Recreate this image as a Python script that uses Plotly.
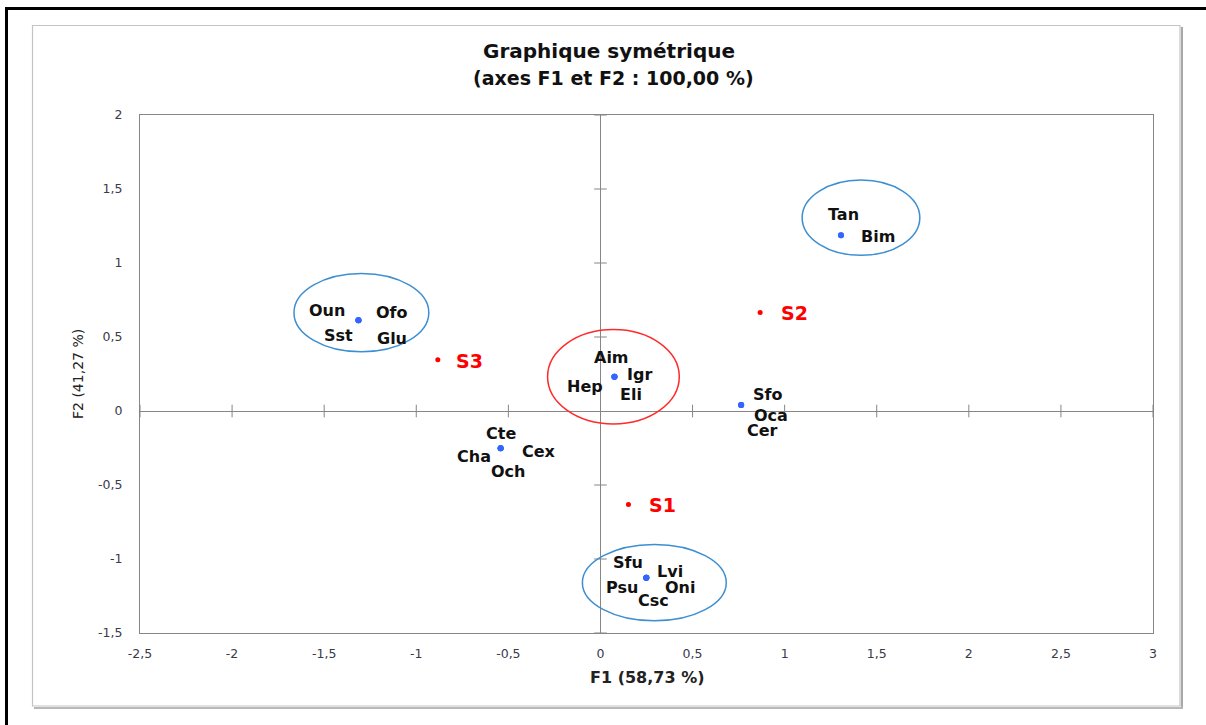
import plotly.graph_objects as go

# ---------------- data ----------------
species = ["Oun", "Ofo", "Sst", "Glu",
           "Aim", "Igr", "Hep", "Eli",
           "Tan", "Bim",
           "Sfo", "Oca", "Cer",
           "Cte", "Cha", "Cex", "Och",
           "Sfu", "Lvi", "Psu", "Oni", "Csc"]
species_f1 = [-1.314, -1.314, -1.314, -1.314,
              0.076, 0.076, 0.076, 0.076,
              1.306, 1.306,
              0.764, 0.764, 0.764,
              -0.542, -0.542, -0.542, -0.542,
              0.249, 0.249, 0.249, 0.249, 0.249]
species_f2 = [0.614, 0.614, 0.614, 0.614,
              0.231, 0.231, 0.231, 0.231,
              1.187, 1.187,
              0.041, 0.041, 0.041,
              -0.251, -0.251, -0.251, -0.251,
              -1.126, -1.126, -1.126, -1.126, -1.126]

sites = ["S1", "S2", "S3"]
sites_f1 = [0.152, 0.867, -0.883]
sites_f2 = [-0.631, 0.665, 0.346]

x_ticks = [-2.5, -2, -1.5, -1, -0.5, 0, 0.5, 1, 1.5, 2, 2.5, 3]
x_tick_labels = ["-2,5", "-2", "-1,5", "-1", "-0,5", "0", "0,5", "1", "1,5", "2", "2,5", "3"]
y_ticks = [-1.5, -1, -0.5, 0, 0.5, 1, 1.5, 2]
y_tick_labels = ["-1,5", "-1", "-0,5", "0", "0,5", "1", "1,5", "2"]

# group ellipses (data units: x0, x1, y0, y1, colour)
groups = [
    (-1.664, -0.932, 0.400, 0.929, "#3d8fd1"),
    (-0.287, 0.428, -0.088, 0.550, "#ff2a2a"),
    (1.095, 1.734, 1.052, 1.560, "#3d8fd1"),
    (-0.098, 0.683, -1.418, -0.902, "#3d8fd1"),
]

# ---------------- styling (pixel offsets of labels) ----------------
species_offsets = [(-31, -10), (34, -8), (-20, 15), (34, 18),
                   (-3, -19), (25, -2), (-29, 10), (17, 18),
                   (2, -21), (37, 1),
                   (26, -10), (30, 11), (21, 26),
                   (0, -15), (-27, 8), (38, 3), (7, 23),
                   (-18, -15), (24, -6), (-24, 10), (34, 10), (7, 23)]
site_offsets = [(34, 1), (34, 0), (32, 1)]

W, H = 1206, 725
L, R, T, B = 140, 53, 115, 92
PW, PH = W - L - R, H - T - B


def px(x):
    return (x - L) / PW


def py(y):
    return (H - B - y) / PH


AX = "#868686"
TXT = "#3a3a48"
LABEL_FONT = "DejaVu Sans"

fig = go.Figure()

fig.add_trace(go.Scatter(
    x=species_f1, y=species_f2, mode="markers",
    marker=dict(color="#3366ff", size=6), hoverinfo="skip", showlegend=False))
fig.add_trace(go.Scatter(
    x=sites_f1, y=sites_f2, mode="markers",
    marker=dict(color="#ff0000", size=5), hoverinfo="skip", showlegend=False))

# tick marks crossing the central axes
xt = [v for v in x_ticks if v != 0]
yt = [v for v in y_ticks if v != 0]
fig.add_trace(go.Scatter(
    x=xt, y=[0] * len(xt), mode="markers",
    marker=dict(symbol="line-ns", size=9, line=dict(color=AX, width=1)),
    hoverinfo="skip", showlegend=False))
fig.add_trace(go.Scatter(
    x=[0] * len(yt), y=yt, mode="markers",
    marker=dict(symbol="line-ew", size=9, line=dict(color=AX, width=1)),
    hoverinfo="skip", showlegend=False))

annotations = []
for name, x, y, (dx, dy) in zip(species, species_f1, species_f2, species_offsets):
    annotations.append(dict(
        x=x, y=y, xref="x", yref="y", text=name, showarrow=False,
        xanchor="center", yanchor="middle",
        xshift=dx, yshift=-dy,
        font=dict(family=LABEL_FONT, size=16, color="#111111", weight="bold")))
for name, x, y, (dx, dy) in zip(sites, sites_f1, sites_f2, site_offsets):
    annotations.append(dict(
        x=x, y=y, xref="x", yref="y", text=name, showarrow=False,
        xanchor="center", yanchor="middle",
        xshift=dx, yshift=-dy,
        font=dict(family=LABEL_FONT, size=19, color="#ff0000", weight="bold")))

# title
annotations.append(dict(
    x=px(609), y=py(51), xref="paper", yref="paper", showarrow=False,
    xanchor="center", yanchor="middle",
    text="Graphique symétrique",
    font=dict(family=LABEL_FONT, size=20, color="#111111", weight="bold")))
annotations.append(dict(
    x=px(613), y=py(78), xref="paper", yref="paper", showarrow=False,
    xanchor="center", yanchor="middle",
    text="(axes F1 et F2 : 100,00 %)",
    font=dict(family=LABEL_FONT, size=19, color="#111111", weight="bold")))
# axis titles
annotations.append(dict(
    x=px(647), y=py(677), xref="paper", yref="paper", showarrow=False,
    xanchor="center", yanchor="middle",
    text="F1 (58,73 %)",
    font=dict(family=LABEL_FONT, size=16, color="#222222", weight="bold")))
annotations.append(dict(
    x=px(78), y=py(374), xref="paper", yref="paper", showarrow=False,
    xanchor="center", yanchor="middle",
    text="F2 (41,27 %)", textangle=-90,
    font=dict(family=LABEL_FONT, size=14, color="#222222")))

shapes = []
for x0, x1, y0, y1, col in groups:
    shapes.append(dict(type="circle", xref="x", yref="y",
                       x0=x0, x1=x1, y0=y0, y1=y1,
                       line=dict(color=col, width=1.5), layer="above"))

# chart frame with shadow
shapes.append(dict(type="rect", xref="paper", yref="paper",
                   x0=px(32.5), x1=px(1180), y0=py(25.5), y1=py(706),
                   line=dict(color="#c4c4c4", width=1.2), layer="below"))
shapes.append(dict(type="line", xref="paper", yref="paper",
                   x0=px(1182), x1=px(1182), y0=py(27), y1=py(708),
                   line=dict(color="#a8a8a8", width=2)))
shapes.append(dict(type="line", xref="paper", yref="paper",
                   x0=px(34), x1=px(1183), y0=py(708), y1=py(708),
                   line=dict(color="#b8b8b8", width=2)))
# outer black border (top & left)
shapes.append(dict(type="line", xref="paper", yref="paper",
                   x0=px(5), x1=px(1210), y0=py(8.5), y1=py(8.5),
                   line=dict(color="#000000", width=3)))
shapes.append(dict(type="line", xref="paper", yref="paper",
                   x0=px(6.5), x1=px(6.5), y0=py(7), y1=py(730),
                   line=dict(color="#000000", width=3)))

fig.update_layout(
    width=W, height=H,
    margin=dict(l=L, r=R, t=T, b=B),
    paper_bgcolor="white", plot_bgcolor="white",
    showlegend=False,
    annotations=annotations,
    shapes=shapes,
    xaxis=dict(range=[-2.5, 3], tickvals=x_ticks, ticktext=x_tick_labels,
               showgrid=False, zeroline=True, zerolinecolor=AX, zerolinewidth=1,
               showline=True, linecolor=AX, linewidth=1, mirror=True,
               ticks="outside", ticklen=9, tickcolor="rgba(0,0,0,0)",
               tickfont=dict(family=LABEL_FONT, size=12.5, color=TXT)),
    yaxis=dict(range=[-1.5, 2], tickvals=y_ticks, ticktext=y_tick_labels,
               showgrid=False, zeroline=True, zerolinecolor=AX, zerolinewidth=1,
               showline=True, linecolor=AX, linewidth=1, mirror=True,
               ticks="outside", ticklen=14, tickcolor="rgba(0,0,0,0)",
               tickfont=dict(family=LABEL_FONT, size=12.5, color=TXT)),
)

fig.write_html("out.html",
               config={"displayModeBar": False},
               post_script="document.body.style.margin='0';"
                           "document.body.style.overflow='hidden';")
